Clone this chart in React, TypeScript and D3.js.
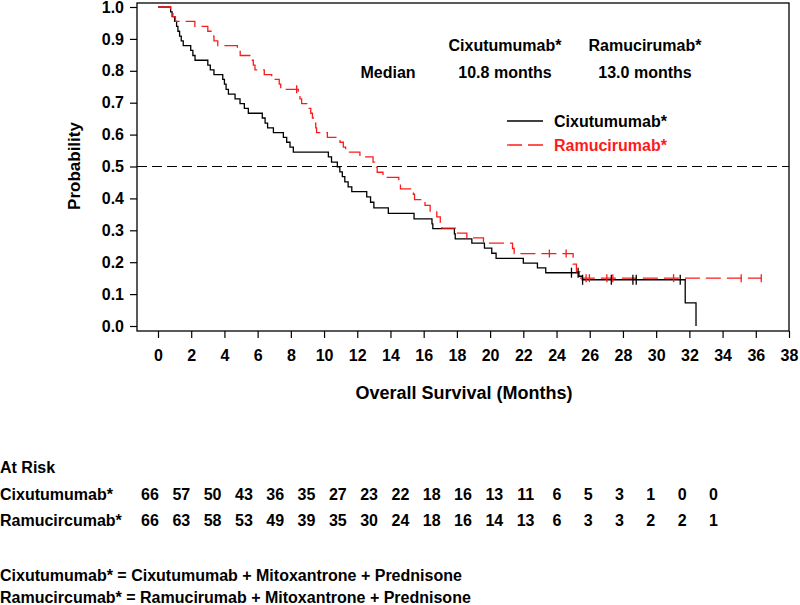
import { useEffect, useRef } from "react";
import * as d3 from "d3";

// Kaplan-Meier steps (time in months, survival after the drop)
const cixTimes = [0.76, 0.85, 1.0, 1.12, 1.2, 1.3, 1.4, 1.52, 1.97, 2.1, 2.23, 3.0, 3.15, 3.37, 3.9, 4.0, 4.1, 4.24, 4.64, 4.94, 5.2, 5.44, 6.28, 6.45, 6.6, 6.95, 7.55, 7.75, 7.95, 8.15, 10.26, 10.45, 10.8, 10.95, 11.1, 11.25, 11.45, 11.67, 12.57, 12.8, 13.0, 13.87, 15.42, 16.5, 16.55, 17.85, 17.9, 18.9, 19.66, 20.1, 20.36, 22.0, 22.85, 23.35, 25.35, 25.55, 31.75, 32.4];
const cixSurv = [0.985, 0.970, 0.955, 0.939, 0.924, 0.909, 0.894, 0.879, 0.864, 0.848, 0.833, 0.818, 0.803, 0.788, 0.773, 0.758, 0.742, 0.727, 0.712, 0.697, 0.682, 0.667, 0.652, 0.636, 0.621, 0.606, 0.591, 0.576, 0.561, 0.545, 0.530, 0.514, 0.499, 0.483, 0.468, 0.452, 0.436, 0.421, 0.405, 0.388, 0.370, 0.353, 0.336, 0.320, 0.305, 0.289, 0.273, 0.260, 0.244, 0.228, 0.212, 0.197, 0.182, 0.167, 0.156, 0.145, 0.0725, 0];
const cixCensor = [24.9, 25.3, 25.57, 27.3, 28.6, 28.8, 31.45];

const ramTimes = [0.76, 0.9, 1.05, 2.22, 3.0, 3.2, 3.37, 3.6, 4.78, 4.95, 5.64, 5.74, 5.84, 6.4, 6.85, 7.3, 7.39, 8.45, 8.55, 8.65, 9.0, 9.2, 9.3, 9.4, 9.5, 9.55, 10.2, 10.96, 11.16, 11.3, 12.16, 12.95, 13.05, 13.2, 13.55, 14.5, 14.6, 15.38, 15.45, 16.08, 16.39, 16.79, 17.0, 17.1, 17.95, 18.6, 19.6, 21.35, 21.45, 25.0, 25.2, 25.4];
const ramSurv = [0.985, 0.970, 0.955, 0.939, 0.924, 0.909, 0.894, 0.879, 0.864, 0.848, 0.833, 0.818, 0.803, 0.788, 0.773, 0.758, 0.742, 0.727, 0.712, 0.697, 0.682, 0.667, 0.652, 0.636, 0.621, 0.606, 0.591, 0.576, 0.561, 0.545, 0.530, 0.514, 0.498, 0.482, 0.466, 0.448, 0.430, 0.413, 0.396, 0.378, 0.360, 0.342, 0.325, 0.307, 0.291, 0.276, 0.260, 0.243, 0.227, 0.194, 0.170, 0.150];
const ramCensor = [8.35, 23.57, 24.58, 25.78, 25.98, 27.03, 27.39, 31.05, 35.12, 36.33];
const ramEnd = 36.33;

const xTickValues = [0, 2, 4, 6, 8, 10, 12, 14, 16, 18, 20, 22, 24, 26, 28, 30, 32, 34, 36, 38];
const yTickValues = [0, 0.1, 0.2, 0.3, 0.4, 0.5, 0.6, 0.7, 0.8, 0.9, 1.0];

const cixAtRisk = [66, 57, 50, 43, 36, 35, 27, 23, 22, 18, 16, 13, 11, 6, 5, 3, 1, 0, 0];
const ramAtRisk = [66, 63, 58, 53, 49, 39, 35, 30, 24, 18, 16, 14, 13, 6, 3, 3, 2, 2, 1];

const FONT = "'Liberation Sans', Arial, Helvetica, sans-serif";
const RED = "#ff1a1a";

type Pt = [number, number];

function kmPoints(times: number[], surv: number[], end?: number): Pt[] {
  const pts: Pt[] = [[0, 1]];
  times.forEach((t, i) => pts.push([t, surv[i]]));
  if (end !== undefined) pts.push([end, surv[surv.length - 1]]);
  return pts;
}

function survAt(times: number[], surv: number[], t: number) {
  const i = d3.bisectRight(times, t);
  return i === 0 ? 1 : surv[i - 1];
}

export default function App() {
  const xAxisRef = useRef<SVGGElement | null>(null);
  const yAxisRef = useRef<SVGGElement | null>(null);

  const left = 137, right = 789, top = 3, bottom = 331;
  const x = d3.scaleLinear().domain([0, 38]).range([158, 789]);
  const y = d3.scaleLinear().domain([0, 1]).range([326, 7]);

  const line = d3.line<Pt>().x(d => x(d[0])).y(d => y(d[1])).curve(d3.curveStepAfter);
  const cixPath = line(kmPoints(cixTimes, cixSurv)) || "";
  const ramPath = line(kmPoints(ramTimes, ramSurv, ramEnd)) || "";

  useEffect(() => {
    const gx = d3.select(xAxisRef.current);
    gx.call(d3.axisBottom(x).tickValues(xTickValues).tickSize(7).tickSizeOuter(0).tickPadding(12).tickFormat(d3.format("d")));
    gx.select(".domain").remove();
    gx.selectAll("line").attr("stroke", "#000").attr("stroke-width", 1.2);
    gx.selectAll("text").attr("font-family", FONT).attr("font-size", 16).attr("font-weight", "bold").attr("fill", "#000");

    const gy = d3.select(yAxisRef.current);
    gy.call(d3.axisLeft(y).tickValues(yTickValues).tickSize(7).tickSizeOuter(0).tickPadding(6).tickFormat(d3.format(".1f")));
    gy.select(".domain").remove();
    gy.selectAll("line").attr("stroke", "#000").attr("stroke-width", 1.2);
    gy.selectAll("text").attr("font-family", FONT).attr("font-size", 16).attr("font-weight", "bold").attr("fill", "#000");
  }, []);

  const riskX = (i: number) => 150 + i * 31.3;

  return (
    <svg width={800} height={605} style={{ position: "absolute", left: 0, top: 0, background: "#fff" }} fontFamily={FONT}>
      <rect x={0} y={0} width={800} height={605} fill="#fff" />
      <rect x={left} y={top} width={right - left} height={bottom - top} fill="none" stroke="#000" strokeWidth={1.3} />
      <g ref={xAxisRef} transform={`translate(0,${bottom})`} />
      <g ref={yAxisRef} transform={`translate(${left},0)`} />

      <line x1={left} x2={right} y1={y(0.5)} y2={y(0.5)} stroke="#000" strokeWidth={1} strokeDasharray="10,5" />

      <path d={cixPath} fill="none" stroke="#000" strokeWidth={1.3} />
      <path d={ramPath} fill="none" stroke={RED} strokeWidth={1.3} strokeDasharray="15,6" />

      {cixCensor.map((t, i) => {
        const s = survAt(cixTimes, cixSurv, t);
        return <line key={"c" + i} x1={x(t)} x2={x(t)} y1={y(s) - 5} y2={y(s) + 5} stroke="#000" strokeWidth={1.3} />;
      })}
      {ramCensor.map((t, i) => {
        const s = survAt(ramTimes, ramSurv, t);
        return <line key={"r" + i} x1={x(t)} x2={x(t)} y1={y(s) - 4} y2={y(s) + 4} stroke={RED} strokeWidth={1.3} />;
      })}

      <text transform="translate(80,166) rotate(-90)" textAnchor="middle" fontSize={17} fontWeight="bold">Probability</text>
      <text x={464} y={399} textAnchor="middle" fontSize={18} fontWeight="bold">Overall Survival (Months)</text>

      <g fontSize={16} fontWeight="bold" textAnchor="middle">
        <text x={505} y={51}>Cixutumumab*</text>
        <text x={645} y={51}>Ramucirumab*</text>
        <text x={388} y={78}>Median</text>
        <text x={505} y={78}>10.8 months</text>
        <text x={645} y={78}>13.0 months</text>
      </g>

      <line x1={507} x2={543} y1={121} y2={121} stroke="#000" strokeWidth={1.3} />
      <line x1={507} x2={543} y1={145} y2={145} stroke={RED} strokeWidth={1.3} strokeDasharray="15,6" />
      <text x={554} y={127} fontSize={16} fontWeight="bold">Cixutumumab*</text>
      <text x={554} y={151} fontSize={16} fontWeight="bold" fill={RED}>Ramucirumab*</text>

      <g fontSize={16} fontWeight="bold">
        <text x={0} y={473}>At Risk</text>
        <text x={0} y={500}>Cixutumumab*</text>
        <text x={0} y={526}>Ramucircumab*</text>
        {cixAtRisk.map((v, i) => (
          <text key={"a" + i} x={riskX(i)} y={500} textAnchor="middle">{v}</text>
        ))}
        {ramAtRisk.map((v, i) => (
          <text key={"b" + i} x={riskX(i)} y={526} textAnchor="middle">{v}</text>
        ))}
        <text x={0} y={581}>Cixutumumab* = Cixutumumab + Mitoxantrone + Prednisone</text>
        <text x={0} y={603}>Ramucircumab* = Ramucirumab + Mitoxantrone + Prednisone</text>
      </g>
    </svg>
  );
}
